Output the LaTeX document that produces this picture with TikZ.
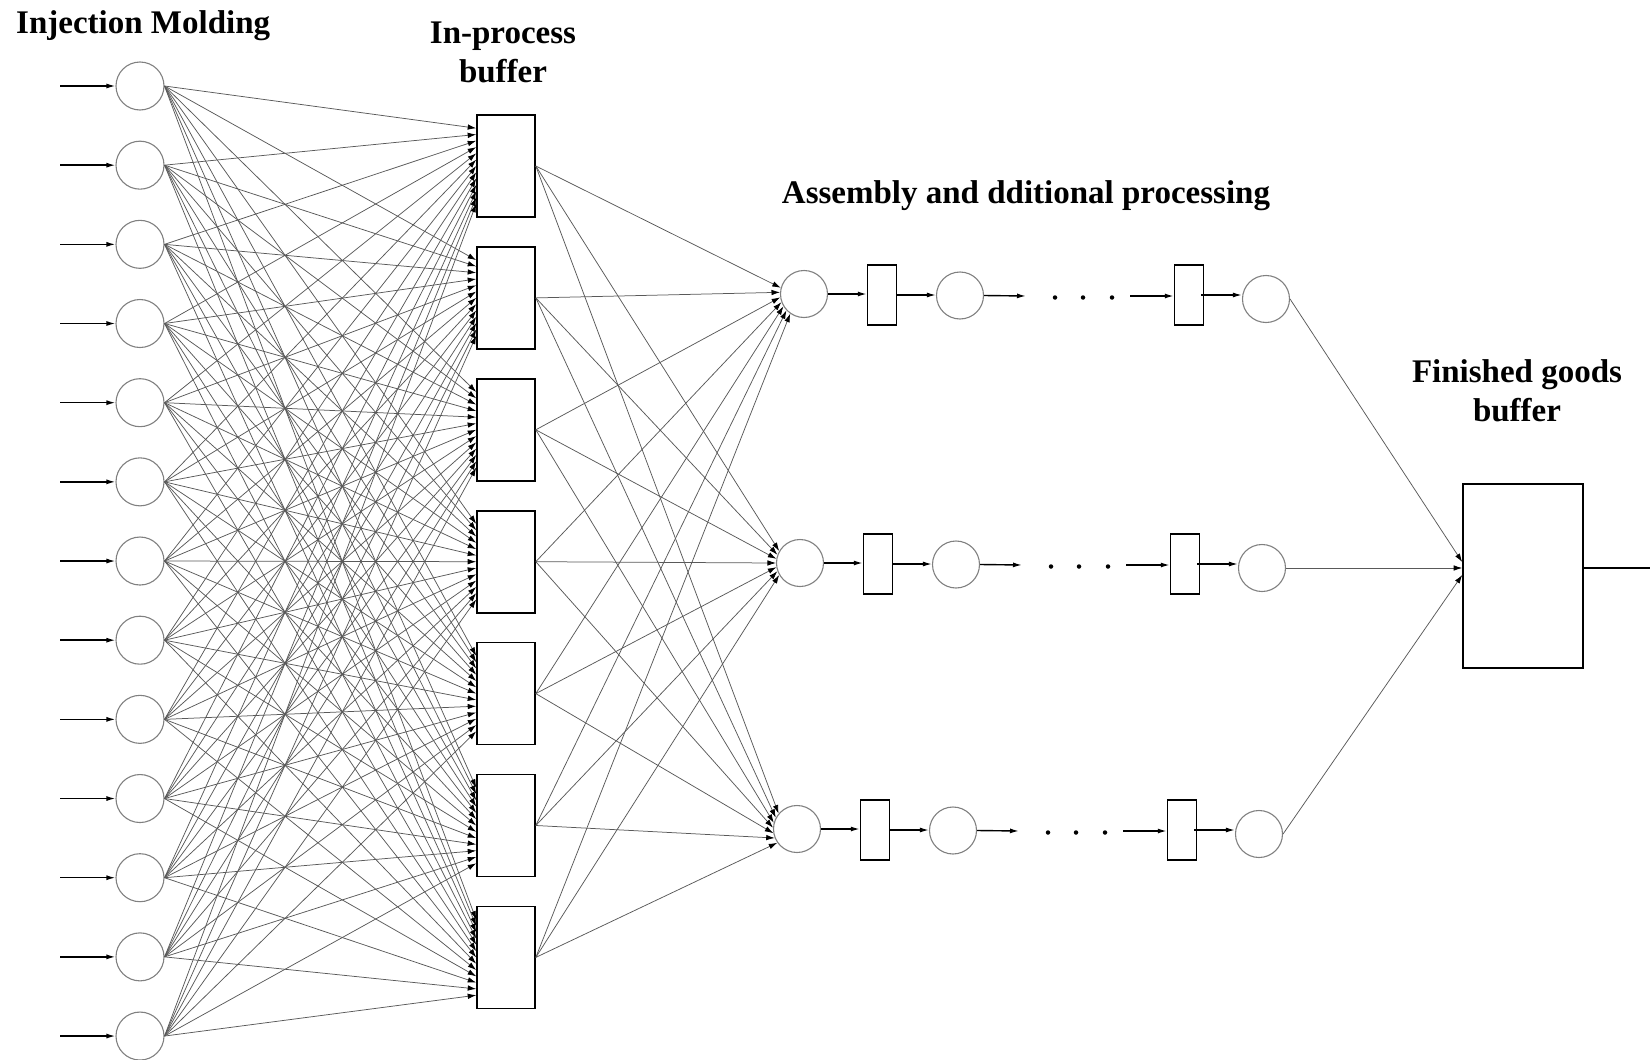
\documentclass[tikz,border=0pt]{standalone}
\usepackage{fontspec}
\setmainfont{Liberation Serif}
\usetikzlibrary{arrows.meta,calc}
\begin{document}
\begin{tikzpicture}[x=1pt,y=-1pt,
  mold/.style={circle,draw=black!50,line width=1.1pt,minimum size=48pt,inner sep=0pt},
  stn/.style={circle,draw=black!50,line width=1.1pt,minimum size=47pt,inner sep=0pt},
  buf/.style={rectangle,draw=black,line width=1.6pt,minimum width=58pt,minimum height=102pt,inner sep=0pt},
  sbuf/.style={rectangle,draw=black,line width=1.5pt,minimum width=29pt,minimum height=60pt,inner sep=0pt},
  fbuf/.style={rectangle,draw=black,line width=1.6pt,minimum width=120pt,minimum height=184pt,inner sep=0pt},
  feed/.style={black,line width=1.4pt,-{Latex[length=9pt,width=5pt]}},
  link/.style={black!65,line width=0.75pt,-{Latex[length=8.5pt,width=5.5pt,color=black]}},
  lbl/.style={font=\fontsize{33}{39}\selectfont\bfseries,inner sep=0pt,align=center},
  dotmark/.style={circle,fill=black,minimum size=4.5pt,inner sep=0pt}
]
\useasboundingbox (0,0) rectangle (1650,1060);

% labels
\node[lbl,anchor=base west] (tmold) at (16,33) {Injection Molding};
\node[lbl] (tbuf) at (503,52.6) {In-process\\buffer};
\node[lbl,anchor=base] (tasm) at (1026,203) {Assembly and dditional processing};
\node[lbl] (tfin) at (1517,391) {Finished goods\\buffer};

% injection molding machines with their feeds
\foreach \i in {0,...,12} {
  \pgfmathsetmacro\yy{86+79.17*\i}
  \node[mold] (m\i) at (140,\yy) {};
  \coordinate (in\i) at (60,\yy);
  \draw[feed] (in\i) -- (m\i.west);
}

% in-process buffers
\foreach \j in {0,...,6} {
  \pgfmathsetmacro\yy{166+131.9*\j}
  \node[buf] (b\j) at (506,\yy) {};
}

% every machine feeds every buffer
\foreach \i in {0,...,12} {
  \pgfmathsetmacro\dy{(6-\i)*6.3}
  \foreach \j in {0,...,6} {
    \draw[link] (m\i.east) -- ([yshift=\dy pt]b\j.west);
  }
}

% assembly lines
\foreach \r/\x/\y in {1/804/294, 2/800/563, 3/797/829} {
  \node[stn] (a\r) at (\x,\y) {};
  \node[sbuf] (p\r) at (\x+78,\y+1) {};
  \node[stn] (q\r) at (\x+156,\y+1.5) {};
  \coordinate (e\r) at (\x+222,\y+2);
  \node[dotmark] (d\r a) at (\x+251,\y+3.5) {};
  \node[dotmark] (d\r b) at (\x+279,\y+3.5) {};
  \node[dotmark] (d\r c) at (\x+308,\y+3.5) {};
  \coordinate (s\r) at (\x+326,\y+2);
  \node[sbuf] (u\r) at (\x+385,\y+1) {};
  \node[stn] (z\r) at (\x+462,\y+5) {};
  \draw[feed] (a\r.east) -- (a\r.east -| p\r.west);
  \draw[feed] (p\r.east) -- (p\r.east -| q\r.west);
  \draw[feed] (q\r.east) -- (e\r);
  \draw[feed] (s\r) -- (s\r -| u\r.west);
  \draw[feed] ([xshift=-3pt]u\r.east) -- (u\r.east -| z\r.west);
}

% every buffer feeds every assembly line
\foreach \r/\a/\s in {1/165/11.67, 2/150/10, 3/140/12.5} {
  \foreach \j in {0,...,6} {
    \pgfmathsetmacro\ang{\a+\s*\j}
    \draw[link] (b\j.east) -- (a\r.\ang);
  }
}

% finished goods buffer
\node[fbuf] (fg) at (1523,576) {};
\draw[link] (z1.east) -- ([yshift=14pt]fg.west);
\draw[link] (z2.east) -- ([yshift=8pt]fg.west);
\draw[link] (z3.east) -- ([yshift=1pt]fg.west);
\coordinate (out) at (1652,568);
\draw[black,line width=1.4pt] ([yshift=8pt]fg.east) -- (out);
\end{tikzpicture}
\end{document}
